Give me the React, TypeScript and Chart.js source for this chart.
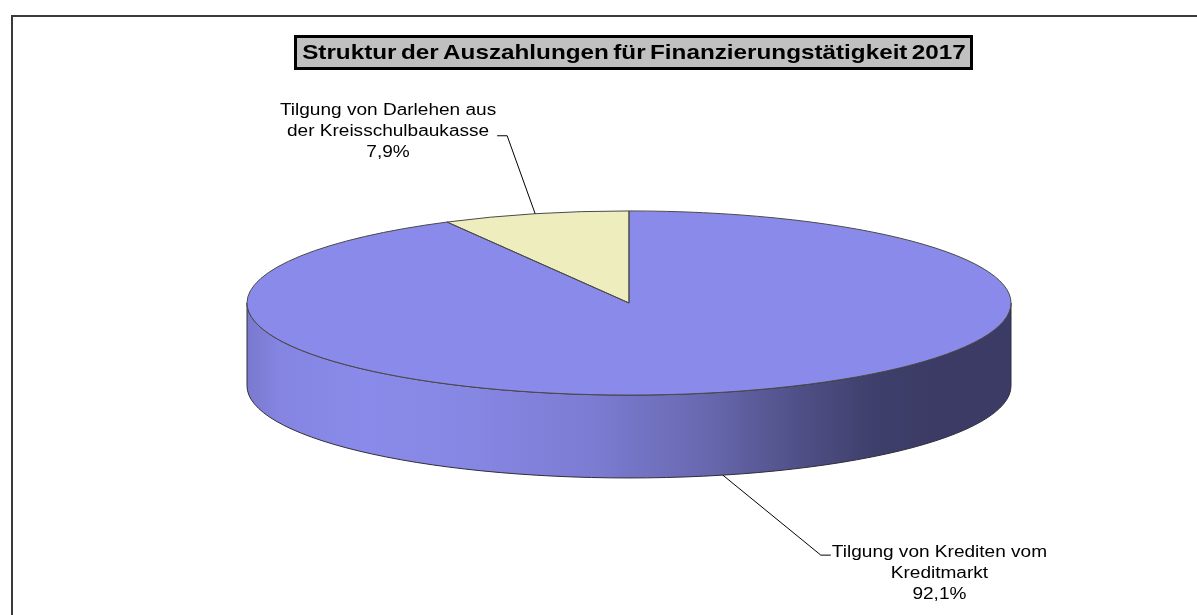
import React, { useEffect, useRef } from "react";
import { Chart, registerables } from "chart.js";

Chart.register(...registerables);

// ---- data ----
const categories = [
  "Tilgung von Krediten vom Kreditmarkt",
  "Tilgung von Darlehen aus der Kreisschulbaukasse",
];
const labelLines = [
  ["Tilgung von Krediten vom", "Kreditmarkt"],
  ["Tilgung von Darlehen aus", "der Kreisschulbaukasse"],
];
const values = [92.1, 7.9];
const sliceColors = ["#8A8AEA", "#EDEDBE"];
const chartTitle = "Struktur der Auszahlungen für Finanzierungstätigkeit 2017";

// ---- style / layout ----
const W = 1197;
const H = 615;
const TILT = 0.241; // vertical squash of the pie
const DEPTH_RATIO = 0.217; // side depth relative to radius
const RADIUS = 382;
const STRETCH = 1.19; // horizontal text stretch
const TITLE_STRETCH = 1.155;
const FONT = "'Liberation Sans', Arial, sans-serif";
const labelLayout = [
  { dx: 98, dy: 80, side: "right", alignLine: 0, lineOff: 3 },
  { dx: -28, dy: -78, side: "left", alignLine: 1, lineOff: 4 },
];
const LINE_H = 21;
const TICK = 10;
const sideShade: [number, number][] = [
  [0, 0.88],
  [0.04, 0.96],
  [0.15, 1.0],
  [0.3, 0.97],
  [0.45, 0.9],
  [0.6, 0.75],
  [0.72, 0.58],
  [0.82, 0.46],
  [0.9, 0.43],
  [1, 0.43],
];

function hexToRgb(h: string) {
  const n = parseInt(h.slice(1), 16);
  return [(n >> 16) & 255, (n >> 8) & 255, n & 255];
}
function shade(h: string, f: number) {
  const [r, g, b] = hexToRgb(h);
  return `rgb(${Math.round(r * f)},${Math.round(g * f)},${Math.round(b * f)})`;
}

function stretchedText(
  ctx: CanvasRenderingContext2D,
  text: string,
  x: number,
  y: number,
  font: string,
  sx: number = STRETCH,
  wordSpacing: string = "0px"
) {
  ctx.save();
  ctx.font = font;
  (ctx as any).wordSpacing = wordSpacing;
  ctx.textAlign = "center";
  ctx.textBaseline = "middle";
  ctx.fillStyle = "#000";
  ctx.translate(x, y);
  ctx.scale(sx, 1);
  ctx.fillText(text, 0, 0);
  ctx.restore();
}

const pie3d = {
  id: "pie3d",
  beforeDraw(chart: any) {
    const ctx: CanvasRenderingContext2D = chart.ctx;
    ctx.save();
    ctx.fillStyle = "#fff";
    ctx.fillRect(0, 0, W, H);
    // outer frame (cropped)
    ctx.fillStyle = "#3a3a3a";
    ctx.fillRect(11, 15, W - 11, 2);
    ctx.fillRect(11, 15, 2, H - 15);
    // title box
    ctx.fillStyle = "#000";
    ctx.fillRect(294, 35, 679, 35);
    ctx.fillStyle = "#C0C0C0";
    ctx.fillRect(297, 38, 673, 29);
    ctx.restore();
    stretchedText(ctx, chartTitle, 634, 53, `bold 21px ${FONT}`, TITLE_STRETCH, "-2px");
  },
  beforeDatasetsDraw(chart: any) {
    const ctx: CanvasRenderingContext2D = chart.ctx;
    const meta = chart.getDatasetMeta(0);
    const a0 = meta.data[0];
    const cx = a0.x, cy = a0.y, rx = a0.outerRadius, ry = rx * TILT;
    const depth = rx * DEPTH_RATIO;
    meta.data.forEach((arc: any, i: number) => {
      const { startAngle, endAngle } = arc;
      for (const off of [-2 * Math.PI, 0, 2 * Math.PI]) {
        const s = Math.max(startAngle, off);
        const e = Math.min(endAngle, off + Math.PI);
        if (e <= s) continue;
        const grad = ctx.createLinearGradient(cx - rx, 0, cx + rx, 0);
        sideShade.forEach(([p, f]) => grad.addColorStop(p, shade(sliceColors[i], f)));
        ctx.save();
        ctx.beginPath();
        ctx.ellipse(cx, cy, rx, ry, 0, s, e, false);
        ctx.ellipse(cx, cy + depth, rx, ry, 0, e, s, true);
        ctx.closePath();
        ctx.fillStyle = grad;
        ctx.fill();
        ctx.lineWidth = 1;
        ctx.strokeStyle = "#2e2e3a";
        ctx.stroke();
        ctx.restore();
      }
    });
    ctx.save();
    ctx.translate(cx, cy);
    ctx.scale(1, TILT);
    ctx.translate(-cx, -cy);
  },
  afterDatasetsDraw(chart: any) {
    const ctx: CanvasRenderingContext2D = chart.ctx;
    ctx.restore();
    const meta = chart.getDatasetMeta(0);
    const a0 = meta.data[0];
    const cx = a0.x, cy = a0.y, rx = a0.outerRadius, ry = rx * TILT;
    const depth = rx * DEPTH_RATIO;
    // top face outlines
    ctx.save();
    ctx.lineWidth = 1;
    ctx.strokeStyle = "#4a4a4a";
    meta.data.forEach((arc: any) => {
      ctx.beginPath();
      ctx.moveTo(cx, cy);
      ctx.ellipse(cx, cy, rx, ry, 0, arc.startAngle, arc.endAngle, false);
      ctx.closePath();
      ctx.stroke();
    });
    ctx.restore();
    // labels with leader lines
    const total = values.reduce((a, b) => a + b, 0);
    meta.data.forEach((arc: any, i: number) => {
      const mid = (arc.startAngle + arc.endAngle) / 2;
      const ax = cx + rx * Math.cos(mid);
      let ay = cy + ry * Math.sin(mid);
      if (Math.sin(mid) > 0) ay += depth;
      const L = labelLayout[i];
      const ex = ax + L.dx, ey = ay + L.dy;
      const tx = L.side === "right" ? ex + TICK : ex - TICK;
      ctx.save();
      ctx.strokeStyle = "#000";
      ctx.lineWidth = 1;
      ctx.beginPath();
      ctx.moveTo(ax, ay);
      ctx.lineTo(ex, ey);
      ctx.lineTo(tx, ey);
      ctx.stroke();
      ctx.restore();
      const pct = ((values[i] / total) * 100).toFixed(1).replace(".", ",") + "%";
      const lines = [...labelLines[i], pct];
      const font = `16px ${FONT}`;
      ctx.font = font;
      const bw = Math.max(...lines.map((t) => ctx.measureText(t).width)) * STRETCH;
      const centerX = L.side === "right" ? tx + 1 + bw / 2 : tx - 1 - bw / 2;
      const firstY = ey - L.lineOff - L.alignLine * LINE_H;
      lines.forEach((t, k) => stretchedText(ctx, t, centerX, firstY + k * LINE_H, font));
    });
  },
};

export default function App() {
  const ref = useRef<HTMLCanvasElement | null>(null);
  useEffect(() => {
    if (!ref.current) return;
    const chart = new Chart(ref.current, {
      type: "pie",
      data: {
        labels: categories,
        datasets: [
          {
            data: values,
            backgroundColor: sliceColors,
            borderWidth: 0,
            radius: RADIUS,
            clip: false,
          } as any,
        ],
      },
      options: {
        responsive: false,
        animation: false,
        layout: { padding: { left: 61, right: 0, top: 0, bottom: 9 } },
        plugins: {
          legend: { display: false },
          title: { display: false },
          tooltip: { enabled: false },
        },
        events: [],
      },
      plugins: [pie3d],
    });
    return () => chart.destroy();
  }, []);
  return (
    <div style={{ position: "absolute", left: 0, top: 0, width: W, height: H }}>
      <canvas ref={ref} width={W} height={H} style={{ display: "block" }} />
    </div>
  );
}
